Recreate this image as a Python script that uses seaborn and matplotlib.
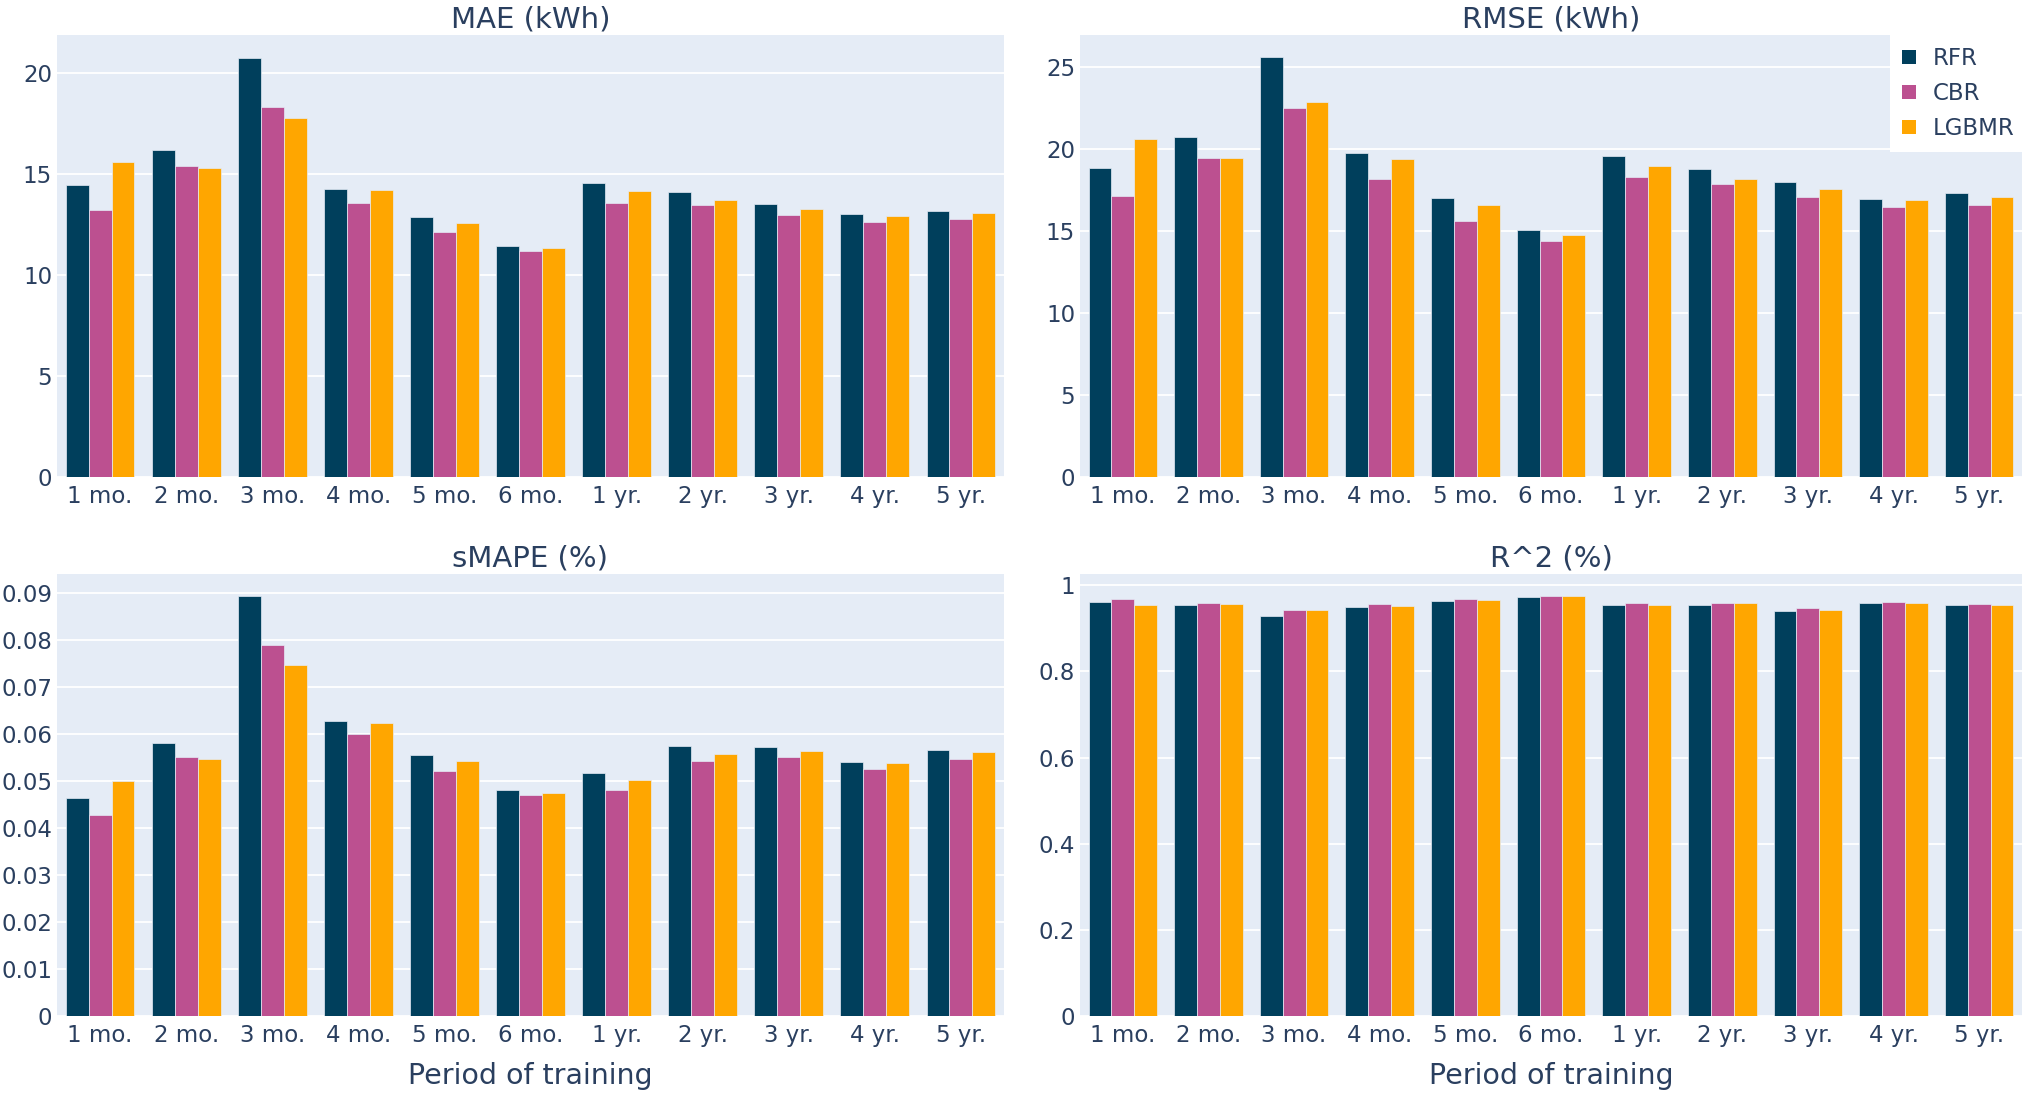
import numpy as np
import pandas as pd
import matplotlib
matplotlib.use('Agg')
import matplotlib.pyplot as plt
from matplotlib.ticker import MultipleLocator, FuncFormatter
from matplotlib.patches import Patch
import seaborn as sns

# ========== data ==========
periods = ['1 mo.', '2 mo.', '3 mo.', '4 mo.', '5 mo.', '6 mo.',
           '1 yr.', '2 yr.', '3 yr.', '4 yr.', '5 yr.']
models = ['RFR', 'CBR', 'LGBMR']

mae_rfr = [14.48, 16.19, 20.77, 14.26, 12.87, 11.43, 14.56, 14.13, 13.52, 13.02, 13.19]
mae_cbr = [13.22, 15.40, 18.32, 13.59, 12.13, 11.19, 13.59, 13.49, 13.00, 12.62, 12.79]
mae_lgbmr = [15.60, 15.30, 17.77, 14.21, 12.60, 11.33, 14.18, 13.72, 13.27, 12.95, 13.10]

rmse_rfr = [18.86, 20.74, 25.58, 19.77, 17.00, 15.04, 19.57, 18.80, 18.00, 16.98, 17.29]
rmse_cbr = [17.15, 19.44, 22.52, 18.18, 15.62, 14.42, 18.31, 17.87, 17.07, 16.49, 16.61]
rmse_lgbmr = [20.60, 19.48, 22.85, 19.36, 16.61, 14.73, 18.95, 18.18, 17.58, 16.88, 17.09]

smape_rfr = [0.0464, 0.0581, 0.0894, 0.0627, 0.0555, 0.0481, 0.0518, 0.0574, 0.0572, 0.0540, 0.0566]
smape_cbr = [0.0428, 0.0551, 0.0790, 0.0601, 0.0522, 0.0470, 0.0482, 0.0543, 0.0551, 0.0525, 0.0548]
smape_lgbmr = [0.0501, 0.0548, 0.0747, 0.0624, 0.0543, 0.0474, 0.0503, 0.0558, 0.0565, 0.0538, 0.0561]

r2_rfr = [0.960, 0.953, 0.929, 0.950, 0.964, 0.972, 0.953, 0.955, 0.940, 0.958, 0.954]
r2_cbr = [0.967, 0.958, 0.943, 0.956, 0.969, 0.975, 0.958, 0.959, 0.946, 0.960, 0.957]
r2_lgbmr = [0.953, 0.957, 0.942, 0.951, 0.965, 0.974, 0.955, 0.958, 0.942, 0.958, 0.954]

colors = ['#003f5c', '#bc5090', '#ffa600']
bg = '#E5ECF6'
txt = '#2a3f5f'


def long_df(rfr, cbr, lgbmr):
    rows = []
    for m, vals in zip(models, [rfr, cbr, lgbmr]):
        for p, v in zip(periods, vals):
            rows.append({'period': p, 'model': m, 'value': v})
    return pd.DataFrame(rows)


W, H = 2027, 1095
panels = [
    ('MAE (kWh)', long_df(mae_rfr, mae_cbr, mae_lgbmr), 5, 21.9,
     [57 / W, 1 - 477 / H, 947 / W, 442 / H]),
    ('RMSE (kWh)', long_df(rmse_rfr, rmse_cbr, rmse_lgbmr), 5, 26.95,
     [1080 / W, 1 - 477 / H, 942 / W, 442 / H]),
    ('sMAPE (%)', long_df(smape_rfr, smape_cbr, smape_lgbmr), 0.01, 0.0941,
     [57 / W, 1 - 1016 / H, 947 / W, 442 / H]),
    ('R^2 (%)', long_df(r2_rfr, r2_cbr, r2_lgbmr), 0.2, 1.026,
     [1080 / W, 1 - 1016 / H, 942 / W, 442 / H]),
]

sns.set_style('darkgrid', {'axes.facecolor': bg, 'grid.color': 'white'})
plt.rcParams['font.family'] = ['DejaVu Sans']
plt.rcParams['text.color'] = txt

fig = plt.figure(figsize=(W / 100, H / 100), dpi=100)
fig.patch.set_facecolor('white')

for i, (title, df, step, ytop, pos) in enumerate(panels):
    ax = fig.add_axes(pos)
    sns.barplot(data=df, x='period', y='value', hue='model', order=periods,
                hue_order=models, palette=colors, saturation=1, width=0.8,
                edgecolor=bg, linewidth=0.5, legend=False, ax=ax)
    ax.set_ylim(0, ytop)
    ax.set_xlim(-0.5, len(periods) - 0.5)
    ax.yaxis.set_major_locator(MultipleLocator(step))
    ax.yaxis.set_major_formatter(FuncFormatter(lambda v, _: f"{v:g}"))
    ax.grid(axis='y', color='white', linewidth=1.3)
    ax.grid(axis='x', visible=False)
    ax.set_axisbelow(True)
    for s in ax.spines.values():
        s.set_visible(False)
    ax.tick_params(axis='y', length=0, pad=3.5, labelsize=16.5, labelcolor=txt)
    ax.tick_params(axis='x', length=0, pad=5.5, labelsize=16.5, labelcolor=txt)
    ax.set_title(title, fontsize=21, color=txt, pad=5.5)
    ax.set_ylabel('')
    if i >= 2:
        ax.set_xlabel('Period of training', fontsize=20.5, color=txt, labelpad=11)
    else:
        ax.set_xlabel('')

    if title.startswith('RMSE'):
        handles = [Patch(facecolor=c, edgecolor='none') for c in colors]
        leg = fig.legend(handles, models, loc='upper right',
                         bbox_to_anchor=(1.0, 1 - 35 / H),
                         bbox_transform=fig.transFigure,
                         fontsize=16.5, frameon=True, fancybox=False,
                         borderaxespad=0, borderpad=0.53,
                         handlelength=0.6, handleheight=0.6,
                         handletextpad=0.75, labelspacing=0.52)
        leg.get_frame().set_facecolor('white')
        leg.get_frame().set_edgecolor('none')
        leg.get_frame().set_alpha(1)
        for t in leg.get_texts():
            t.set_color(txt)

fig.savefig('out.png', dpi=100, facecolor='white')
